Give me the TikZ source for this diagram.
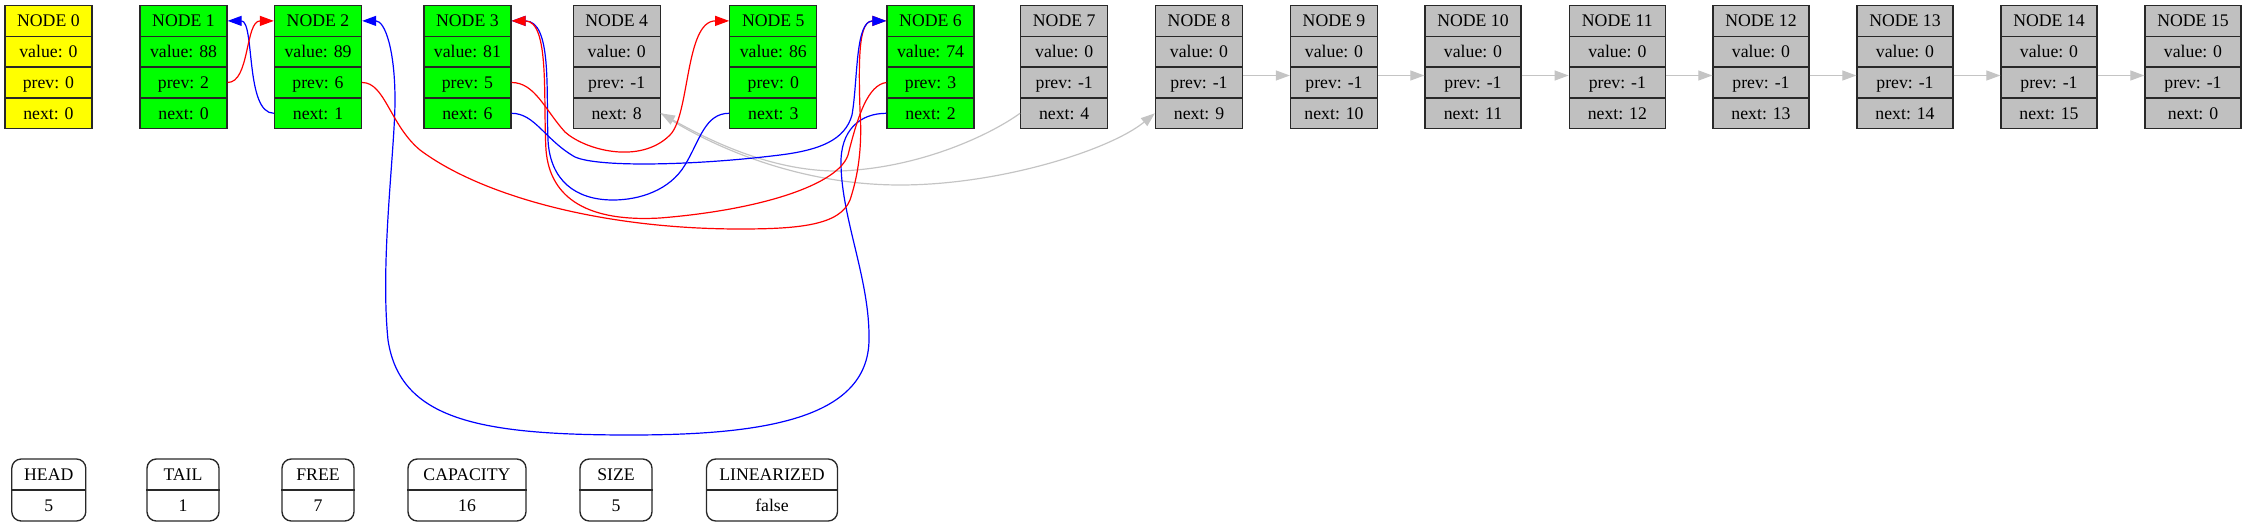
\documentclass[tikz,border=0pt]{standalone}
\usepackage{fontspec}
\setmainfont{Liberation Serif}
\usetikzlibrary{arrows.meta}
\definecolor{nodegreen}{RGB}{0,255,0}
\definecolor{nodeyellow}{RGB}{255,255,0}
\definecolor{nodegray}{RGB}{192,192,192}
\definecolor{edgegray}{RGB}{196,196,196}
\definecolor{edgered}{RGB}{255,0,0}
\definecolor{edgeblue}{RGB}{0,0,255}
\definecolor{boxline}{RGB}{40,40,40}
\tikzset{
  cell/.style={draw=boxline, line width=1pt, inner sep=0pt, minimum height=23.1pt,
    font=\fontsize{13.3}{15}\selectfont, text height=10.64pt, text depth=1.86pt},
  regbox/.style={draw=boxline, line width=1pt, rounded corners=7pt, minimum height=46.5pt, inner sep=0pt},
  regtext/.style={inner sep=0pt, font=\fontsize{13.3}{15}\selectfont, text height=10.64pt, text depth=1.86pt},
  regline/.style={draw=boxline, line width=1.4pt},
  ptr/.style={line width=0.9pt, -{Triangle[length=10.5pt,width=7.5pt]}},
  redptr/.style={ptr, draw=edgered},
  blueptr/.style={ptr, draw=edgeblue},
  grayptr/.style={ptr, draw=edgegray},
}
\newcommand\memnode[7]{%
  \node[cell, fill=#4, minimum width=#3] (n#1h) at (#2,20.9) {NODE #1};
  \node[cell, fill=#4, minimum width=#3] (n#1v) at (#2,51.7) {value: #5};
  \node[cell, fill=#4, minimum width=#3] (n#1p) at (#2,82.5) {prev: #6};
  \node[cell, fill=#4, minimum width=#3] (n#1n) at (#2,113.3) {next: #7};
}
\newcommand\mkreg[5]{%
  \node[regbox, minimum width=#3] (#1box) at (#2,490) {};
  \draw[regline] (#1box.west) -- (#1box.east);
  \node[regtext] (#1key) at (#2,474.5) {#4};
  \node[regtext] (#1val) at (#2,505.5) {#5};
}
\begin{document}
\begin{tikzpicture}[x=0.75pt,y=-0.75pt]
\useasboundingbox (0,0) rectangle (2247,527);
% memory nodes
\memnode{0}{48.4}{65.25pt}{nodeyellow}{0}{0}{0}
\memnode{1}{183.5}{65.25pt}{nodegreen}{88}{2}{0}
\memnode{2}{318}{65.25pt}{nodegreen}{89}{6}{1}
\memnode{3}{467.4}{65.25pt}{nodegreen}{81}{5}{6}
\memnode{4}{616.7}{65.25pt}{nodegray}{0}{-1}{8}
\memnode{5}{773.3}{65.25pt}{nodegreen}{86}{0}{3}
\memnode{6}{930.5}{65.25pt}{nodegreen}{74}{3}{2}
\memnode{7}{1064.2}{65.25pt}{nodegray}{0}{-1}{4}
\memnode{8}{1199}{65.25pt}{nodegray}{0}{-1}{9}
\memnode{9}{1334}{65.25pt}{nodegray}{0}{-1}{10}
\memnode{10}{1473}{72pt}{nodegray}{0}{-1}{11}
\memnode{11}{1617.3}{72pt}{nodegray}{0}{-1}{12}
\memnode{12}{1761}{72pt}{nodegray}{0}{-1}{13}
\memnode{13}{1905}{72pt}{nodegray}{0}{-1}{14}
\memnode{14}{2049}{72pt}{nodegray}{0}{-1}{15}
\memnode{15}{2193}{72pt}{nodegray}{0}{-1}{0}
% registers
\mkreg{head}{48.8}{55.5pt}{HEAD}{5}
\mkreg{tail}{183}{54pt}{TAIL}{1}
\mkreg{free}{318}{54pt}{FREE}{7}
\mkreg{cap}{467}{88.5pt}{CAPACITY}{16}
\mkreg{size}{616}{54pt}{SIZE}{5}
\mkreg{lin}{772}{98.25pt}{LINEARIZED}{false}
% free list (gray)
\draw[grayptr] (n7n.west) .. controls (990,135) and (920,168) .. (840,171)
  .. controls (770,172) and (705,138) .. (n4n.east);
\draw[grayptr] (n4n.east) .. controls (700,140) and (790,185) .. (900,185)
  .. controls (1000,185) and (1110,150) .. (n8n.west);
\foreach \a/\b in {8/9,9/10,10/11,11/12,12/13,13/14,14/15}{
  \draw[grayptr] ([yshift=5.25pt]n\a p.east) -- ([yshift=5.25pt]n\b p.west);
}
% next pointers (blue)
\draw[blueptr] (n2n.west) .. controls (245,113.3) and (255,20.9) .. (n1h.east);
\draw[blueptr] (n5n.west) .. controls (705,113.3) and (700,140) .. (685,165)
  .. controls (670,190) and (640,200) .. (613,200)
  .. controls (575,200) and (550,180) .. (548,140)
  .. controls (546,90) and (552,20.9) .. (n3h.east);
\draw[blueptr] (n6n.west) .. controls (860,113.3) and (840,130) .. (841,165)
  .. controls (842,220) and (870,280) .. (869,340)
  .. controls (868,420) and (760,435) .. (630,435)
  .. controls (480,435) and (400,420) .. (388,340)
  .. controls (380,260) and (395,150) .. (395,100)
  .. controls (395,50) and (385,20.9) .. (n2h.east);
% prev pointers (red)
\draw[redptr] (n1p.east) .. controls (250,82.5) and (245,20.9) .. (n2h.west);
\draw[redptr] (n2p.east) .. controls (385,82.5) and (390,125) .. (420,150)
  .. controls (480,195) and (600,229) .. (740,229)
  .. controls (800,229) and (840,225) .. (850,200)
  .. controls (860,170) and (862,140) .. (860,110)
  .. controls (858,50) and (860,20.9) .. (n6h.west);
\draw[redptr] (n6p.west) .. controls (868,85) and (858,115) .. (848,155)
  .. controls (838,185) and (760,210) .. (660,218)
  .. controls (590,222) and (550,200) .. (546,150)
  .. controls (543,100) and (550,20.9) .. (n3h.east);
\draw[redptr] (n3p.east) .. controls (535,82.5) and (545,110) .. (565,132)
  .. controls (585,150) and (640,165) .. (670,135)
  .. controls (690,115) and (685,20.9) .. (n5h.west);
% blue into node 6 on top
\draw[blueptr] (n3n.east) .. controls (535,113.3) and (545,140) .. (575,157)
  .. controls (600,168) and (700,165) .. (780,155)
  .. controls (820,150) and (845,140) .. (852,115)
  .. controls (858,80) and (855,20.9) .. (n6h.west);
\end{tikzpicture}
\end{document}
